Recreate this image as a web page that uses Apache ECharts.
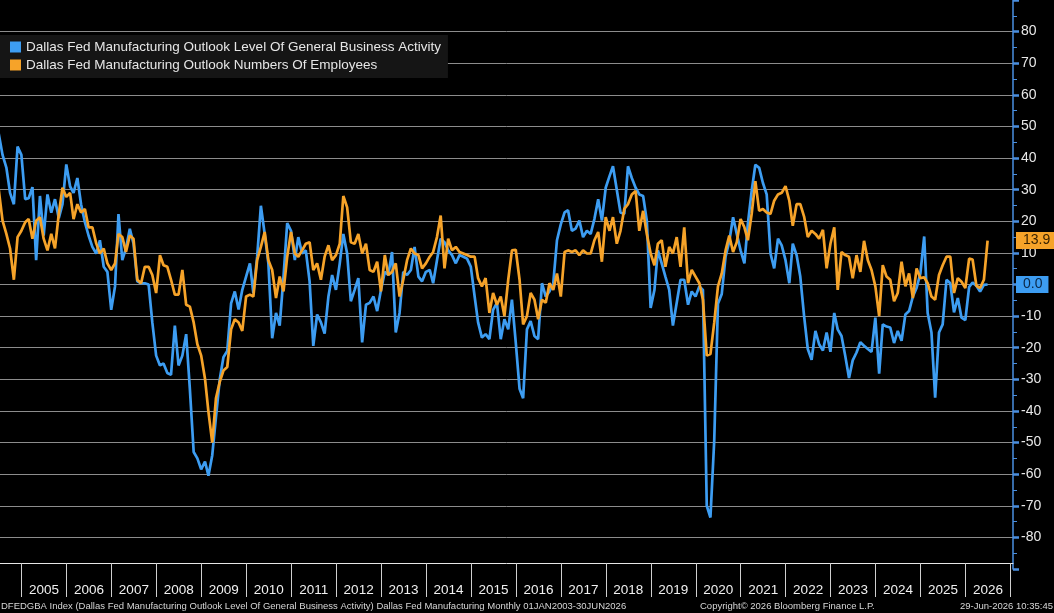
<!DOCTYPE html>
<html><head><meta charset="utf-8">
<script src="https://cdn.jsdelivr.net/npm/echarts@6/dist/echarts.min.js"></script>
<style>html,body{margin:0;padding:0;background:#000;}#c{width:1054px;height:613px;}</style>
</head><body><div id="c"></div>
<script>
// ---------- data ----------
const seriesNames = [
  'Dallas Fed Manufacturing Outlook Level Of General Business Activity',
  'Dallas Fed Manufacturing Outlook Numbers Of Employees'
];
const firstYear = 2004, firstMonth = 6; // monthly observations from Jun 2004 to Jun 2026
const businessActivity = [
  47.7, 41.0, 37.0, 29.0, 25.4, 43.6, 41.0,
  27.0, 27.3, 30.8, 7.7, 28.0, 15.5, 28.5, 22.7, 27.0, 21.0, 25.4, 38.0,
  31.0, 29.0, 33.7, 25.4, 19.7, 15.5, 11.9, 9.8, 14.0, 5.6, 4.0, -8.0,
  -0.6, 22.3, 7.7, 11.4, 17.6, 13.0, 1.0, 0.4, 0.4, 0.0, -12.0, -22.5,
  -25.6, -25.0, -28.0, -28.6, -13.0, -25.6, -22.5, -15.7, -33.0, -53.0, -55.0, -58.5,
  -56.0, -60.5, -54.0, -42.0, -30.0, -23.0, -21.0, -6.0, -2.2, -7.9, -1.7, 2.5,
  6.7, -2.7, 8.8, 24.9, 16.0, 6.7, -17.0, -9.0, -13.0, 2.5, 19.4, 17.0,
  7.7, 15.0, 9.8, 10.8, 1.0, -19.4, -9.5, -12.0, -15.5, -3.8, 3.0, -1.7,
  6.7, 16.0, 9.8, -5.3, -1.7, 2.0, -18.3, -6.4, -5.8, -3.8, -8.4, -1.7,
  4.0, 3.0, 10.3, -15.2, -9.0, 4.0, 3.0, 4.6, 11.9, 2.5, 1.0, 4.0,
  4.6, 0.4, 7.7, 14.5, 13.4, 10.8, 9.3, 6.7, 9.3, 8.8, 8.2, 5.6,
  -3.8, -12.0, -16.8, -15.7, -17.3, -8.0, -5.8, -17.3, -11.0, -14.2, -4.8, -18.3,
  -33.0, -36.0, -14.2, -11.6, -16.3, -17.3, 0.4, -3.8, -2.2, 0.4, 14.0, 19.0,
  22.8, 23.5, 17.0, 17.7, 20.2, 15.0, 17.0, 16.0, 20.7, 27.0, 20.2, 30.6,
  34.3, 37.4, 30.0, 22.8, 22.3, 37.4, 33.7, 30.6, 28.5, 28.0, 20.2, -7.4,
  -1.7, 10.8, 6.7, 2.5, -1.7, -13.0, -5.8, 1.5, 1.5, -6.4, -2.2, -3.8,
  -0.6, -1.7, -70.0, -73.7, -49.2, -6.1, -3.0, 8.8, 13.6, 21.3, 16.0, 10.8,
  6.7, 19.2, 29.6, 37.9, 36.9, 32.2, 28.5, 9.8, 5.1, 14.5, 12.4, 7.7,
  0.4, 12.9, 9.3, 2.5, -10.0, -20.4, -23.8, -14.7, -18.9, -20.9, -15.2, -21.3,
  -9.0, -14.2, -16.3, -22.5, -29.6, -24.0, -21.5, -18.3, -19.4, -20.4, -21.3, -10.5,
  -28.2, -12.6, -13.3, -13.6, -18.5, -14.7, -17.8, -9.5, -8.4, -3.8, -1.1, 3.5,
  15.2, -9.0, -15.2, -35.8, -15.2, -12.6, 1.5, 0.4, -8.8, -4.3, -10.5, -11.3,
  -0.8, 0.6, -0.4, -2.2, -0.1, 0.0
];
const employees = [
  30.0, 20.2, 16.0, 11.4, 1.5, 15.0, 17.0,
  19.7, 20.7, 14.5, 20.2, 21.3, 14.5, 10.8, 16.0, 11.4, 22.3, 30.6, 27.7,
  29.0, 20.7, 25.4, 22.8, 23.9, 18.1, 18.1, 13.0, 9.8, 11.4, 6.7, 4.6,
  6.7, 16.0, 15.0, 10.3, 15.5, 14.5, 1.5, 0.4, 5.6, 5.6, 3.0, -2.7,
  9.3, 6.1, 5.6, 1.5, -3.2, -3.2, 4.6, -6.4, -7.0, -12.0, -18.9, -22.5,
  -29.8, -40.3, -50.0, -36.0, -30.8, -27.2, -26.1, -14.2, -11.0, -12.0, -14.7, -3.8,
  -3.2, -3.8, 7.7, 11.9, 16.6, 7.7, 4.6, -4.3, 2.5, -2.2, 8.8, 16.6,
  9.8, 8.8, 10.8, 12.9, 13.4, 4.6, 6.7, 1.5, 8.8, 12.4, 7.7, 9.3,
  12.9, 28.0, 24.4, 13.4, 12.9, 16.0, 9.8, 12.9, 4.6, 4.0, 7.2, -2.2,
  9.3, 3.0, 4.0, 6.7, -3.8, 1.5, 7.7, 11.4, 9.8, 9.3, 5.1, 6.7,
  8.8, 10.3, 15.0, 21.8, 5.1, 14.5, 10.8, 11.9, 10.3, 9.8, 9.3, 8.8,
  8.8, 2.0, -0.6, 2.0, -9.0, -2.7, -6.4, -3.8, -10.0, 1.5, 10.8, 11.0,
  1.5, -12.6, -10.0, -2.7, -4.8, -11.0, -4.8, -5.8, 0.4, -1.7, 3.5, -3.8,
  10.3, 10.8, 10.3, 10.8, 9.3, 10.8, 9.8, 9.8, 14.0, 16.6, 7.2, 21.3,
  17.0, 21.3, 12.9, 17.0, 23.9, 25.4, 28.5, 29.6, 17.0, 23.3, 16.0, 9.8,
  6.1, 12.9, 14.0, 5.6, 11.9, 9.8, 15.0, 5.6, 18.1, 0.4, 4.6, 2.5,
  0.4, -4.8, -22.5, -22.0, -12.0, -0.6, 3.5, 10.8, 15.5, 10.3, 13.4, 20.7,
  18.1, 14.0, 22.3, 32.7, 23.3, 23.9, 22.8, 22.3, 26.5, 28.5, 29.0, 31.1,
  26.5, 18.6, 25.4, 25.4, 21.5, 15.0, 17.0, 16.0, 14.5, 17.3, 5.1, 12.9,
  18.1, -1.7, 10.3, 9.3, 8.8, 2.0, 9.3, 4.0, 13.8, 7.7, 4.6, -0.6,
  -10.0, 6.1, 2.5, 1.5, -5.3, -2.7, 7.2, -0.6, 3.5, -4.3, 5.1, 2.0,
  2.3, 0.4, -3.8, -4.8, 3.0, 6.1, 8.8, 8.8, -2.7, 2.0, 0.9, -1.1,
  8.2, 7.9, -0.4, -1.1, 1.5, 13.9
];
const yearLabels = ['2005','2006','2007','2008','2009','2010','2011','2012','2013','2014','2015',
  '2016','2017','2018','2019','2020','2021','2022','2023','2024','2025','2026'];
const footerLeft = 'DFEDGBA Index (Dallas Fed Manufacturing Outlook Level Of General Business Activity) Dallas Fed Manufacturing Monthly 01JAN2003-30JUN2026';
const footerCenter = 'Copyright\u00A9 2026 Bloomberg Finance L.P.';
const footerRight = '29-Jun-2026 10:35:45';

// ---------- layout ----------
const PLOT_W = 1013;          // plot width (y axis on the right)
const FIRST_DIV = 21.5;       // x of the 2005 divider
const PX_PER_YEAR = 44.95;
const YEAR_MS = 365.2425 * 864e5;
const T2005 = Date.UTC(2005, 0, 1);
const xMin = T2005 - FIRST_DIV / PX_PER_YEAR * YEAR_MS;
const xMax = T2005 + (PLOT_W - FIRST_DIV) / PX_PER_YEAR * YEAR_MS;

const BLUE = '#3d9df2', ORANGE = '#f6a329', AXIS_BLUE = '#4a8fe0';
const FONT = 'Liberation Sans';

function monthEnd(i) { return Date.UTC(firstYear, firstMonth - 1 + i + 1, 0); }
const baData = businessActivity.map((v, i) => [monthEnd(i), v]);
const empData = employees.map((v, i) => [monthEnd(i), v]);

const splitColors = ['rgba(0,0,0,0)'];
for (let i = 0; i < 17; i++) splitColors.push('#8c8c8c');
splitColors.push('rgba(0,0,0,0)');

function tag(value, bg, fg) {
  return {
    silent: true, symbol: 'none', animation: false,
    lineStyle: { width: 0, color: 'rgba(0,0,0,0)' },
    label: {
      show: true, position: 'end', distance: 3,
      formatter: p => Number(p.value).toFixed(1),
      backgroundColor: bg, color: fg, fontSize: 14,
      fontFamily: FONT, padding: [2, 6, 1, 7]
    },
    emphasis: { disabled: true },
    data: [{ yAxis: value }]
  };
}

const chart = echarts.init(document.getElementById('c'), null, { renderer: 'canvas' });
chart.setOption({
  backgroundColor: '#000',
  animation: false,
  textStyle: { fontFamily: FONT },
  grid: [
    { left: 0, top: -7, width: PLOT_W, height: 576 },
    { left: FIRST_DIV, top: 529, width: PX_PER_YEAR * yearLabels.length, height: 34 }
  ],
  legend: {
    left: 0, top: 35, orient: 'vertical',
    backgroundColor: '#151515', padding: [5, 7, 6, 10],
    itemGap: 4, itemWidth: 11, itemHeight: 11, icon: 'rect',
    textStyle: { color: '#e6e6e6', fontSize: 13.5, fontFamily: FONT },
    data: seriesNames, selectedMode: false
  },
  xAxis: [
    {
      type: 'time', gridIndex: 0, min: xMin, max: xMax, offset: -6,
      axisLine: { show: true, onZero: false, lineStyle: { color: '#e6e6e6', width: 1 } },
      axisTick: { show: false }, axisLabel: { show: false }, splitLine: { show: false }
    },
    {
      type: 'category', gridIndex: 1, data: yearLabels, boundaryGap: true, position: 'bottom',
      axisLine: { show: false },
      axisTick: { show: true, interval: 0, length: 34, lineStyle: { color: '#cfcfcf', width: 1 } },
      axisLabel: { interval: 0, color: '#f0f0f0', fontSize: 13.5, margin: 20, fontFamily: FONT },
      splitLine: { show: false }
    }
  ],
  yAxis: [
    {
      type: 'value', gridIndex: 0, position: 'right', min: -90, max: 90, interval: 10,
      axisLine: { show: true, lineStyle: { color: AXIS_BLUE, width: 1.5 } },
      axisTick: { show: true, length: 6, lineStyle: { color: AXIS_BLUE, width: 2.5 } },
      minorTick: { show: true, splitNumber: 2, length: 4, lineStyle: { color: AXIS_BLUE, width: 1 } },
      axisLabel: { color: '#e8e8e8', fontSize: 14, margin: 8, showMinLabel: false, showMaxLabel: false },
      splitLine: { show: true, lineStyle: { color: splitColors, width: 1 } }
    },
    { type: 'value', gridIndex: 1, show: false }
  ],
  series: [
    {
      name: seriesNames[0], type: 'line', xAxisIndex: 0, yAxisIndex: 0,
      data: baData, showSymbol: false, symbol: 'none', clip: false,
      lineStyle: { color: BLUE, width: 2.7 }, itemStyle: { color: BLUE },
      markLine: tag(businessActivity[businessActivity.length - 1], BLUE, '#0b2746'),
      z: 3
    },
    {
      name: seriesNames[1], type: 'line', xAxisIndex: 0, yAxisIndex: 0,
      data: empData, showSymbol: false, symbol: 'none', clip: false,
      lineStyle: { color: ORANGE, width: 2.7 }, itemStyle: { color: ORANGE },
      markLine: tag(employees[employees.length - 1], ORANGE, '#3a2300'),
      z: 4
    }
  ],
  graphic: [
    { type: 'text', left: 1, top: 601, style: { text: footerLeft, fill: '#d6d6d6', font: '9.5px "Liberation Sans"' } },
    { type: 'text', left: 700, top: 601, style: { text: footerCenter, fill: '#d6d6d6', font: '9.5px "Liberation Sans"' } },
    { type: 'text', right: 1, top: 601, style: { text: footerRight, fill: '#d6d6d6', font: '9.5px "Liberation Sans"' } }
  ]
});
</script>
</body></html>
